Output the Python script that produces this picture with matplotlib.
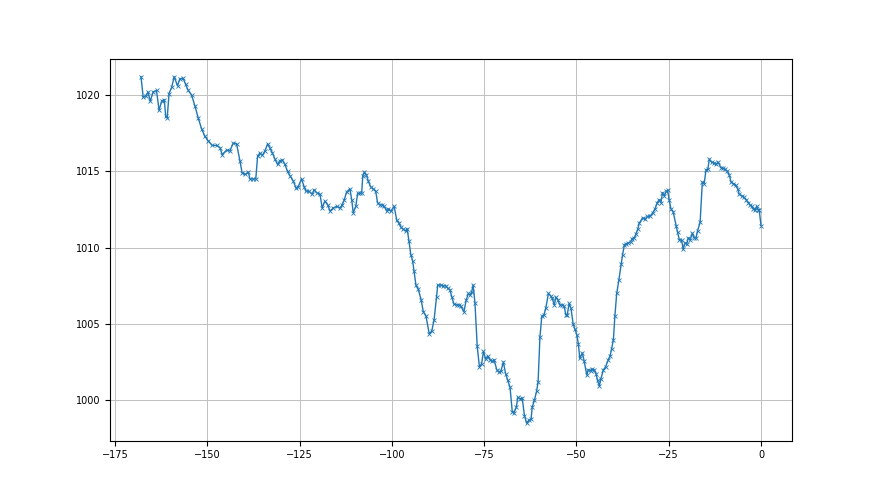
import matplotlib
matplotlib.use("Agg")
import matplotlib.pyplot as plt

# hours relative to now
hours = [
    -168.0, -167.4, -166.7, -166.1, -165.5, -164.7, -163.8, -163.1, -162.4, -161.7,
    -161.3, -160.9, -160.4, -159.7, -159.0, -158.1, -157.5, -156.6, -155.9, -155.2,
    -154.3, -153.4, -152.5, -151.6, -150.7, -149.8, -148.7, -147.5, -146.6, -146.0,
    -144.8, -143.9, -143.0, -142.1,
    -141.2, -140.6, -139.8, -138.9, -138.5, -137.6, -136.9, -136.4, -135.8, -135.1,
    -134.4, -133.7, -133.1, -132.4, -131.7, -131.0, -130.4, -129.7, -129.0, -128.3,
    -127.6, -126.7, -126.0, -125.4, -124.5, -123.8, -123.3, -122.5, -121.6, -121.1,
    -120.4, -119.5, -118.9, -118.2, -117.4, -116.8, -115.9, -115.0,
    -114.1, -113.5, -112.9, -112.3, -111.4, -110.9, -110.5, -109.8, -109.3, -108.7,
    -108.2, -107.9, -107.5, -106.9, -106.4, -105.8, -105.1, -104.4, -103.9, -103.3,
    -102.6, -102.1, -101.4, -101.0, -100.3, -99.4, -98.7, -98.1, -97.6, -96.9,
    -96.3, -95.9, -95.4, -94.9, -94.4, -94.0, -93.5, -92.9, -92.1, -91.5,
    -90.8, -89.9, -89.2, -88.6, -87.9,
    -87.6, -86.7, -86.1, -85.4, -84.9, -84.3, -83.8, -83.2, -82.5, -81.8,
    -81.3, -80.5, -79.9, -79.3, -78.9, -78.4, -78.0, -77.5, -76.9, -76.3,
    -75.7, -75.2, -74.6, -74.1, -73.4, -72.8, -72.3, -71.6, -71.0, -70.5,
    -69.8, -69.2, -68.6, -68.0, -67.4, -66.9, -66.3, -65.9, -65.3, -64.7,
    -64.1, -63.5, -62.9, -62.3, -62.0, -61.4, -60.8, -60.4,
    -59.9, -59.4, -58.8, -58.3, -57.6, -57.0, -56.6, -56.0, -55.6, -55.1,
    -54.5, -53.8, -53.3, -52.9, -52.5, -52.0, -51.5, -50.9, -50.4, -49.9,
    -49.5, -49.1, -48.4, -47.9, -47.2, -46.8, -46.2, -45.7, -45.2, -44.7,
    -44.3, -43.8, -43.4, -42.7, -42.1, -41.4, -40.9, -40.5, -40.0, -39.6,
    -39.1, -38.5, -37.9, -37.5, -37.0, -36.6, -36.0, -35.3, -34.9, -34.3,
    -33.9, -33.4, -33.0,
    -32.1, -31.4, -30.8, -30.1, -29.3, -28.7, -28.1, -27.6, -27.1, -26.7,
    -26.2, -25.7, -25.3, -24.9, -24.4, -23.8, -23.0, -22.6, -22.1, -21.5,
    -21.1, -20.6, -20.1, -19.7, -19.2, -18.6, -18.1, -17.6, -17.2, -16.5,
    -15.9, -15.4, -14.9, -14.4, -14.0, -13.4, -12.7, -12.2, -11.6, -10.9,
    -10.4, -9.8, -9.1, -8.6, -8.1, -7.5, -6.9, -6.3, -5.9, -5.2,
    -4.6, -4.1, -3.4, -3.0, -2.5, -2.1, -1.6, -1.2, -0.7, -0.5,
    0.0,
]

# pressure (hPa)
pressure = [
    1021.2, 1019.85, 1019.95, 1020.2, 1019.6, 1020.2, 1020.3, 1019.0, 1019.6, 1019.7,
    1018.6, 1018.5, 1020.1, 1020.5, 1021.2, 1020.6, 1021.05, 1021.1, 1020.7, 1020.3,
    1020.0, 1019.3, 1018.5, 1017.8, 1017.3, 1017.0, 1016.7, 1016.7, 1016.55, 1016.1,
    1016.4, 1016.35, 1016.85, 1016.8,
    1015.7, 1014.9, 1014.8, 1014.95, 1014.5, 1014.5, 1014.5, 1016.0, 1016.2, 1016.05,
    1016.35, 1016.8, 1016.55, 1016.2, 1015.8, 1015.45, 1015.7, 1015.75, 1015.45, 1015.0,
    1014.7, 1014.35, 1013.9, 1014.0, 1014.5, 1014.0, 1013.7, 1013.7, 1013.5, 1013.8,
    1013.6, 1013.5, 1012.6, 1013.05, 1012.8, 1012.4, 1012.6, 1012.7,
    1012.6, 1012.8, 1013.15, 1013.65, 1013.85, 1013.15, 1012.3, 1012.7, 1013.55, 1013.55,
    1013.6, 1014.7, 1014.95, 1014.75, 1014.35, 1014.0, 1013.85, 1013.7, 1012.95, 1012.8,
    1012.8, 1012.7, 1012.4, 1012.55, 1012.4, 1012.7, 1011.8, 1011.6, 1011.35, 1011.2,
    1011.1, 1011.25, 1010.45, 1009.55, 1009.15, 1008.45, 1007.55, 1007.3, 1006.6, 1005.8,
    1005.55, 1004.35, 1004.55, 1005.25, 1006.8,
    1007.55, 1007.55, 1007.5, 1007.5, 1007.35, 1007.25, 1006.8, 1006.3, 1006.25, 1006.25,
    1006.15, 1005.8, 1006.55, 1007.0, 1006.9, 1007.1, 1007.55, 1006.35, 1003.55, 1002.2,
    1002.4, 1003.2, 1002.7, 1002.9, 1002.65, 1002.55, 1002.65, 1002.0, 1001.85, 1001.9,
    1002.5, 1001.75, 1001.3, 1000.85, 999.25, 999.2, 999.55, 1000.2, 1000.1, 1000.15,
    999.0, 998.5, 998.7, 998.75, 999.55, 1000.0, 1000.6, 1001.2,
    1004.15, 1005.5, 1005.6, 1006.05, 1007.0, 1006.85, 1006.7, 1006.25, 1006.75, 1006.6,
    1006.25, 1006.25, 1006.15, 1005.6, 1005.6, 1006.35, 1006.05, 1005.0, 1004.65, 1004.3,
    1003.7, 1002.75, 1003.1, 1002.55, 1001.65, 1002.0, 1001.95, 1002.05, 1002.0, 1001.75,
    1001.3, 1000.95, 1001.4, 1002.0, 1002.2, 1002.65, 1002.9, 1003.35, 1003.95, 1005.5,
    1007.0, 1007.9, 1008.9, 1009.55, 1010.2, 1010.25, 1010.3, 1010.4, 1010.6, 1010.65,
    1010.9, 1011.2, 1011.6,
    1011.95, 1011.85, 1012.05, 1012.05, 1012.3, 1012.55, 1012.95, 1013.15, 1012.95, 1013.6,
    1013.4, 1013.7, 1013.75, 1013.15, 1012.55, 1012.35, 1011.45, 1011.0, 1010.5, 1010.5,
    1009.9, 1010.3, 1010.25, 1010.65, 1010.5, 1010.95, 1010.65, 1010.65, 1011.1, 1011.65,
    1014.3, 1014.2, 1015.1, 1015.15, 1015.8, 1015.6, 1015.55, 1015.45, 1015.6, 1015.25,
    1015.2, 1015.15, 1015.0, 1014.75, 1014.3, 1014.2, 1014.1, 1013.85, 1013.5, 1013.4,
    1013.3, 1013.15, 1012.95, 1012.8, 1012.7, 1012.55, 1012.45, 1012.7, 1012.45, 1012.5,
    1011.45,
]

fig, ax = plt.subplots(figsize=(8.8, 4.95), dpi=100)
ax.plot(hours, pressure, color="tab:blue", marker="x", markersize=3.5,
        markeredgewidth=0.6, linewidth=1)
ax.grid(True, color="#c0c0c0", linewidth=0.7)
ax.tick_params(labelsize=7)

fig.savefig("out.png", dpi=100)
